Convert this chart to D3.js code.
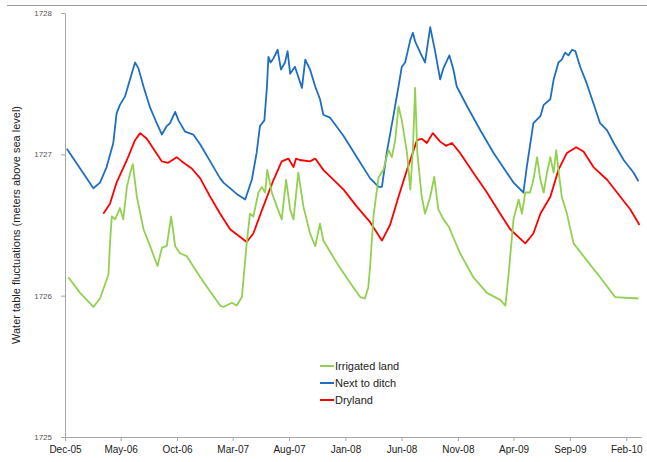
<!DOCTYPE html>
<html><head><meta charset="utf-8">
<script src="https://cdn.jsdelivr.net/npm/d3@7"></script>
<style>body{margin:0;background:#fff}svg{display:block}</style>
</head><body>
<svg id="chart" width="647" height="462"></svg>
<script>
// ---- data (days after 2005-12-01, water level in m a.s.l.) ----
const startDate = "2005-12-01";
const endDate = "2010-03-13";
const tickLabels = ["Dec-05","May-06","Oct-06","Mar-07","Aug-07","Jan-08","Jun-08","Nov-08","Apr-09","Sep-09","Feb-10"];
const yTicks = [1725, 1726, 1727, 1728];
const seriesNames = ["Irrigated land", "Next to ditch", "Dryland"];

const irrigatedDays = [9,41,77,95,118,122,127,136,149,158,168,177,184,195,213,231,251,263,276,288,299,312,330,367,394,421,430,453,466,480,493,502,511,525,534,543,549,561,575,588,600,611,620,633,647,665,679,692,701,738,774,801,814,823,828,837,851,864,878,887,896,905,914,928,937,944,950,956,968,977,991,1002,1013,1027,1041,1072,1108,1145,1181,1195,1204,1217,1231,1240,1249,1262,1271,1281,1290,1299,1308,1317,1326,1333,1339,1348,1362,1380,1416,1452,1493,1556];
const irrigatedLevel = [1726.13,1726.02,1725.92,1725.98,1726.15,1726.37,1726.56,1726.54,1726.62,1726.54,1726.77,1726.87,1726.93,1726.70,1726.47,1726.35,1726.21,1726.34,1726.35,1726.56,1726.35,1726.30,1726.28,1726.13,1726.03,1725.93,1725.92,1725.95,1725.93,1725.99,1726.37,1726.58,1726.56,1726.73,1726.77,1726.73,1726.89,1726.73,1726.63,1726.54,1726.82,1726.61,1726.54,1726.87,1726.63,1726.44,1726.35,1726.51,1726.39,1726.23,1726.09,1725.99,1725.98,1726.06,1726.21,1726.56,1726.84,1726.89,1727.03,1726.98,1727.10,1727.34,1727.24,1727.01,1726.75,1727.03,1727.47,1727.01,1726.70,1726.58,1726.70,1726.84,1726.61,1726.54,1726.49,1726.30,1726.13,1726.02,1725.97,1725.93,1726.16,1726.54,1726.68,1726.58,1726.73,1726.73,1726.82,1726.98,1726.82,1726.73,1726.87,1726.98,1726.87,1727.03,1726.89,1726.70,1726.58,1726.37,1726.25,1726.13,1725.99,1725.98];

const ditchDays = [5,77,95,113,131,140,149,163,172,190,199,213,231,249,263,276,285,299,308,326,348,367,394,421,430,466,489,507,520,529,541,548,552,558,566,577,586,597,604,611,624,643,652,665,679,692,701,719,756,792,828,851,860,873,891,905,914,923,937,944,950,964,977,991,1005,1018,1027,1043,1054,1063,1091,1127,1163,1199,1217,1244,1253,1271,1290,1299,1317,1326,1339,1348,1357,1366,1376,1385,1398,1416,1434,1452,1471,1489,1516,1543,1556];
const ditchLevel = [1727.04,1726.76,1726.80,1726.91,1727.08,1727.29,1727.35,1727.41,1727.49,1727.65,1727.61,1727.48,1727.33,1727.22,1727.14,1727.20,1727.22,1727.30,1727.24,1727.16,1727.14,1727.07,1726.95,1726.83,1726.80,1726.72,1726.68,1726.82,1727.01,1727.20,1727.24,1727.48,1727.69,1727.65,1727.68,1727.74,1727.60,1727.65,1727.73,1727.57,1727.62,1727.47,1727.67,1727.60,1727.48,1727.39,1727.28,1727.26,1727.13,1726.98,1726.83,1726.77,1726.77,1727.01,1727.27,1727.48,1727.62,1727.65,1727.81,1727.86,1727.80,1727.72,1727.65,1727.90,1727.72,1727.53,1727.61,1727.70,1727.60,1727.48,1727.34,1727.17,1727.01,1726.87,1726.80,1726.73,1726.91,1727.22,1727.27,1727.35,1727.39,1727.53,1727.65,1727.67,1727.72,1727.70,1727.74,1727.73,1727.62,1727.50,1727.36,1727.22,1727.17,1727.08,1726.96,1726.87,1726.81];

const drylandDays = [104,122,140,168,190,204,222,240,263,280,303,317,344,367,394,421,448,493,511,538,566,588,606,620,627,637,665,679,701,756,792,828,860,882,905,928,955,968,982,998,1018,1034,1050,1072,1108,1145,1181,1208,1249,1271,1290,1317,1339,1362,1387,1407,1434,1471,1507,1534,1559];
const drylandLevel = [1726.58,1726.65,1726.80,1726.96,1727.10,1727.15,1727.11,1727.04,1726.95,1726.94,1726.98,1726.95,1726.90,1726.83,1726.70,1726.58,1726.47,1726.38,1726.44,1726.63,1726.82,1726.95,1726.97,1726.91,1726.97,1726.96,1726.95,1726.97,1726.89,1726.75,1726.63,1726.52,1726.39,1726.50,1726.70,1726.89,1727.10,1727.11,1727.08,1727.15,1727.09,1727.06,1727.08,1727.01,1726.87,1726.73,1726.58,1726.47,1726.37,1726.44,1726.58,1726.70,1726.89,1727.01,1727.05,1727.02,1726.91,1726.82,1726.70,1726.61,1726.50];

const colors = ["#92D050", "#1F6FC0", "#FF0000"];

// ---- drawing ----
const svg = d3.select("#chart");
const W = 647, H = 462;
const m = {left: 65, right: 6, top: 13, bottom: 25};
const start = d3.utcParse("%Y-%m-%d")(startDate);
const end = d3.utcParse("%Y-%m-%d")(endDate);
const x = d3.scaleUtc().domain([start, end]).range([m.left, W - m.right]);
const y = d3.scaleLinear().domain([1725, 1728]).range([H - m.bottom, m.top]);

svg.append("rect").attr("width", W).attr("height", H).attr("fill", "#fff");
svg.append("line").attr("x1", 7).attr("x2", W).attr("y1", 5.5).attr("y2", 5.5)
  .attr("stroke", "#9a9a9a").attr("stroke-width", 1);

// major unit: 5 months starting at the axis minimum
const tickDates = tickLabels.map((_, i) => d3.utcMonth.offset(start, 5 * i));

const xAxis = svg.append("g").attr("transform", `translate(0,${y(1725)})`)
  .call(d3.axisBottom(x).tickValues(tickDates).tickFormat((d, i) => tickLabels[i]).tickSize(4).tickSizeOuter(0));
xAxis.select(".domain").attr("stroke", "#A6A6A6");
xAxis.selectAll(".tick line").attr("stroke", "#A6A6A6");
xAxis.selectAll("text").attr("font-family", "Liberation Sans, Arial, sans-serif").attr("font-size", 10).attr("fill", "#222").attr("dy", "0.9em");

const yAxis = svg.append("g").attr("transform", `translate(${m.left},0)`)
  .call(d3.axisLeft(y).tickValues(yTicks).tickFormat(d3.format("d")).tickSize(4).tickSizeOuter(0));
yAxis.select(".domain").attr("stroke", "#A6A6A6");
yAxis.selectAll(".tick line").attr("stroke", "#A6A6A6");
yAxis.selectAll("text").attr("font-family", "Liberation Sans, Arial, sans-serif").attr("font-size", 8).attr("fill", "#555").attr("dx", "-6");

svg.append("text")
  .attr("transform", `translate(20,${(m.top + H - m.bottom) / 2}) rotate(-90)`)
  .attr("text-anchor", "middle")
  .attr("font-family", "Liberation Sans, Arial, sans-serif").attr("font-size", 11).attr("fill", "#222")
  .text("Water table fluctuations (meters above sea level)");

const line = d3.line().x(d => x(d[0])).y(d => y(d[1]));
const series = [
  [irrigatedDays, irrigatedLevel],
  [ditchDays, ditchLevel],
  [drylandDays, drylandLevel]
];
const drawOrder = [2, 1, 0];
drawOrder.forEach(i => {
  const [days, vals] = series[i];
  const pts = days.map((d, j) => [d3.utcDay.offset(start, d), vals[j]]);
  svg.append("path").datum(pts).attr("d", line)
    .attr("fill", "none").attr("stroke", colors[i]).attr("stroke-width", 1.8)
    .attr("stroke-linejoin", "round");
});

const legend = svg.append("g").attr("transform", "translate(320,366)");
seriesNames.forEach((name, i) => {
  const g = legend.append("g").attr("transform", `translate(0,${i * 17})`);
  g.append("line").attr("x1", 0).attr("x2", 14).attr("stroke", colors[i]).attr("stroke-width", 2);
  g.append("text").attr("x", 15).attr("dy", "0.35em")
    .attr("font-family", "Liberation Sans, Arial, sans-serif").attr("font-size", 11).attr("fill", "#222")
    .text(name);
});
</script>
</body></html>
